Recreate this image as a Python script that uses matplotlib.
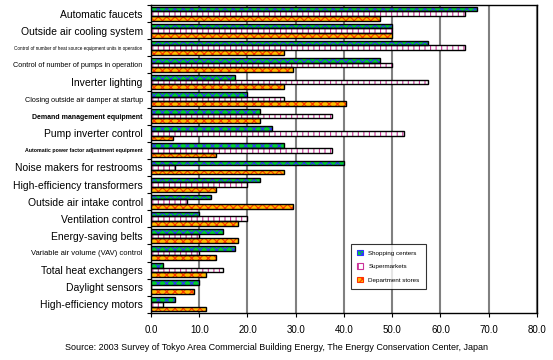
import numpy as np
import matplotlib.pyplot as plt

plt.rcParams['font.family'] = ['Liberation Sans', 'DejaVu Sans']
plt.rcParams['hatch.linewidth'] = 0.8

categories = [
    'Automatic faucets',
    'Outside air cooling system',
    'Control of number of heat source equipment units in operation',
    'Control of number of pumps in operation',
    'Inverter lighting',
    'Closing outside air damper at startup',
    'Demand management equipment',
    'Pump inverter control',
    'Automatic power factor adjustment equipment',
    'Noise makers for restrooms',
    'High-efficiency transformers',
    'Outside air intake control',
    'Ventilation control',
    'Energy-saving belts',
    'Variable air volume (VAV) control',
    'Total heat exchangers',
    'Daylight sensors',
    'High-efficiency motors',
]
label_sizes = [7.5, 7.5, 3.3, 5.2, 7.5, 5.2, 5.0, 7.5, 3.8, 7.5, 7.5, 7.5, 7.5, 7.5, 5.5, 7.5, 7.5, 7.5]
label_bold = [False, False, False, False, False, False, True, False, True,
              False, False, False, False, False, False, False, False, False]

shopping = [67.5, 50.0, 57.5, 47.5, 17.5, 20.0, 22.5, 25.0, 27.5, 40.0, 22.5, 12.5, 10.0, 15.0, 17.5, 2.5, 10.0, 5.0]
supermarkets = [65.0, 50.0, 65.0, 50.0, 57.5, 27.5, 37.5, 52.5, 37.5, 5.0, 20.0, 7.5, 20.0, 10.0, 10.0, 15.0, 0.0, 2.5]
department = [47.5, 50.0, 27.5, 29.5, 27.5, 40.5, 22.5, 4.5, 13.5, 27.5, 13.5, 29.5, 18.0, 18.0, 13.5, 11.5, 9.0, 11.5]

series_names = ['Shopping centers', 'Supermarkets', 'Department stores']

fig = plt.figure(figsize=(5.53, 3.6), dpi=100)
ax = fig.add_axes([0.273, 0.131, 0.698, 0.855])

n = len(categories)
y = np.arange(n)
h = 0.27
styles = [
    dict(face='#00cc33', hatch='xxxx', hcol='#3333ff'),
    dict(face='white', hatch='|||', hcol='#cc3399'),
    dict(face='#ffbb00', hatch='xxxx', hcol='#ff3300'),
]
handles = []
for k, (vals, st) in enumerate(zip([shopping, supermarkets, department], styles)):
    pos = y - h + k * h
    ax.barh(pos, vals, height=h, color=st['face'], edgecolor=st['hcol'],
            hatch=st['hatch'], linewidth=0, zorder=3)
    ax.barh(pos, vals, height=h, fill=False, edgecolor='black',
            linewidth=1.0, zorder=4)
    handles.append(plt.Rectangle((0, 0), 1, 1, facecolor=st['face'],
                                 edgecolor=st['hcol'], hatch=st['hatch'],
                                 linewidth=0.8))

ax.set_xlim(0, 80)
ax.set_ylim(n - 0.5, -0.5)
ax.set_xticks(np.arange(0, 81, 10))
ax.set_xticklabels(['%.1f' % v for v in np.arange(0, 81, 10)], fontsize=7)
ax.xaxis.grid(True, color='#808080', linewidth=1.5, zorder=0)

ax.set_yticks(np.arange(n + 1) - 0.5)
ax.set_yticklabels([])
ax.tick_params(axis='y', which='major', length=3, width=0.8, direction='out')
ax.set_yticks(y, minor=True)
ax.set_yticklabels(categories, minor=True)
ax.tick_params(axis='y', which='minor', length=0, pad=6)
for lab, fs, b in zip(ax.get_yticklabels(minor=True), label_sizes, label_bold):
    lab.set_fontsize(fs)
    if b:
        lab.set_fontweight('bold')
ax.tick_params(axis='x', length=3, pad=6)

for sp in ax.spines.values():
    sp.set_linewidth(1.0)

leg = ax.legend(handles, series_names, loc='upper left',
                bbox_to_anchor=(0.51, 0.235), fontsize=4.5, frameon=True,
                fancybox=False, edgecolor='black', handlelength=1.0,
                handleheight=1.0, labelspacing=1.2, borderpad=1.0)
leg.get_frame().set_linewidth(0.8)

fig.text(0.5, 0.035, 'Source: 2003 Survey of Tokyo Area Commercial Building Energy, The Energy Conservation Center, Japan',
         ha='center', va='center', fontsize=6.5)

fig.savefig('out.png', dpi=100)
